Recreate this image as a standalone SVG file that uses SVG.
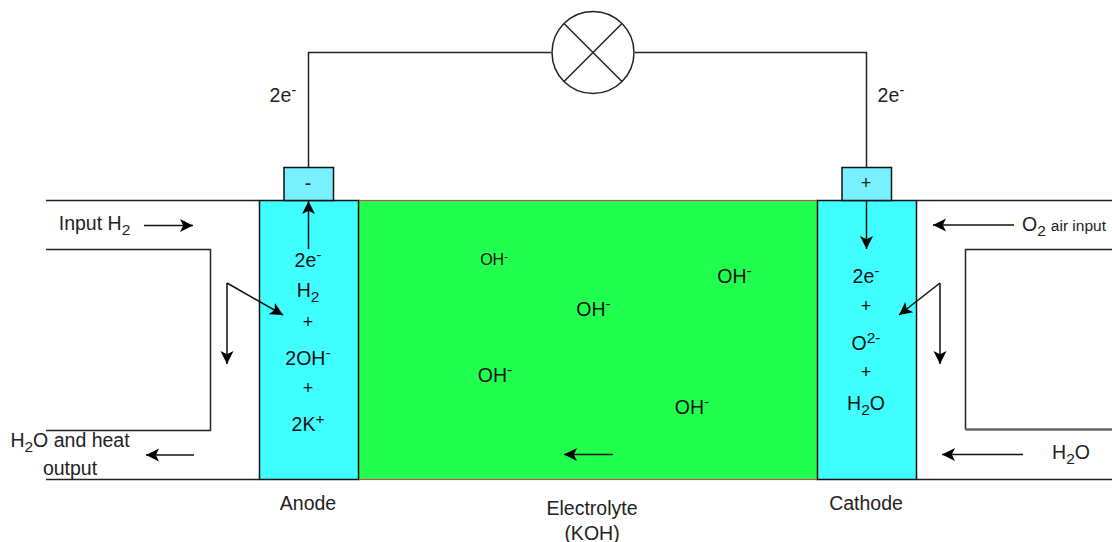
<svg xmlns="http://www.w3.org/2000/svg" width="1112" height="542" viewBox="0 0 1112 542">
<style>
text{font-family:"Liberation Sans",Arial,sans-serif;font-size:19.500px;fill:#222;text-anchor:middle}
.s{font-size:15.500px}
.o{fill:#111}
.p{font-size:18px}
.w{fill:none;stroke:#222;stroke-width:1.5}
.a{fill:none;stroke:#111;stroke-width:1.5;marker-end:url(#h)}
.box{stroke:#111;stroke-width:1.5}
</style>
<defs>
<marker id="h" markerUnits="userSpaceOnUse" markerWidth="16" markerHeight="16" refX="13" refY="7" orient="auto">
<path d="M0 0.5L13 7L0 13.5L3.2 7Z" fill="#000"/>
</marker>
</defs>
<rect width="1112" height="542" fill="#fff"/>
<g id="electrolyte"><rect x="358.500" y="200.500" width="459" height="279" fill="#21ff4f" stroke="#b85450" stroke-width="1.200"/></g>
<g id="anode"><rect class="box" x="259.500" y="200.500" width="99" height="279" fill="#40ffff"/></g>
<g id="cathode"><rect class="box" x="817.500" y="200.500" width="99" height="279" fill="#40ffff"/></g>
<g id="anode-tab"><rect class="box" x="284" y="167.500" width="49.500" height="33" fill="#78f0ff"/><text x="308" y="190">-</text></g>
<g id="cathode-tab"><rect class="box" x="842" y="167.500" width="49.500" height="33" fill="#78f0ff"/><text class="p" x="866" y="189">+</text></g>
<g id="lamp"><circle cx="593" cy="52.500" r="41" fill="#fff" stroke="#222" stroke-width="1.500"/><path class="w" d="M564 23.500L622 81.500M622 23.500L564 81.500"/></g>
<g id="connectors">
<path class="w" d="M308.500 167V52.500H551M635 52.500H866.500V167"/>
<path class="w" d="M46 200.500H259M46 479.500H259M46 249.500H210.500V430.500H46"/>
<path class="w" d="M917 200.500H1112M917 479.500H1112"/>
<path class="w" d="M1112 249.500H965.500V429.500"/>
<path d="M965.500 429.500H1112" fill="none" stroke="#666" stroke-width="2.500"/>
<path class="a" d="M308.500 249V201"/>
<path class="a" d="M144 225.500H193"/>
<path class="a" d="M227 283L283 315"/>
<path class="a" d="M227 283V364"/>
<path class="a" d="M194 455H146"/>
<path class="a" d="M866.500 201V249"/>
<path class="a" d="M940 283L899 315"/>
<path class="a" d="M940 283V364"/>
<path class="a" d="M1014 225H933"/>
<path class="a" d="M1023 454.500H942"/>
<path class="a" d="M613 454.500H564"/>
</g>
<g id="labels">
<text x="283" y="102">2e<tspan class="s" dy="-7">-</tspan></text>
<text x="891" y="102">2e<tspan class="s" dy="-7">-</tspan></text>
<text x="94.500" y="230">Input H<tspan class="s" dy="5">2</tspan></text>
<text x="1064" y="231">O<tspan class="s" dy="5">2</tspan><tspan dy="-5" dx="5" style="font-size:15.500px">air input</tspan></text>
<text x="70" y="447">H<tspan class="s" dy="5">2</tspan><tspan dy="-5">O and heat</tspan></text>
<text x="70" y="475">output</text>
<text x="1071" y="459">H<tspan class="s" dy="5">2</tspan><tspan dy="-5">O</tspan></text>
<text x="308" y="510">Anode</text>
<text x="866" y="510">Cathode</text>
<text x="592" y="515">Electrolyte</text>
<text x="592" y="540">(KOH)</text>
<text class="o" x="308" y="267">2e<tspan class="s" dy="-7">-</tspan></text>
<text class="o" x="308" y="297">H<tspan class="s" dy="5">2</tspan></text>
<text class="o p" x="308" y="328">+</text>
<text class="o" x="308" y="365">2OH<tspan class="s" dy="-7">-</tspan></text>
<text class="o p" x="308" y="394">+</text>
<text class="o" x="308" y="431">2K<tspan class="s" dy="-7">+</tspan></text>
<text class="o" x="866" y="283">2e<tspan class="s" dy="-7">-</tspan></text>
<text class="o p" x="866" y="312">+</text>
<text class="o" x="866" y="350">O<tspan class="s" dy="-7">2-</tspan></text>
<text class="o p" x="866" y="378">+</text>
<text class="o" x="866" y="410">H<tspan class="s" dy="5">2</tspan><tspan dy="-5">O</tspan></text>
<text class="o" x="494" y="265" style="font-size:16px">OH<tspan style="font-size:11px" dy="-5">-</tspan></text>
<text class="o" x="734.500" y="283">OH<tspan class="s" dy="-7">-</tspan></text>
<text class="o" x="593.500" y="316">OH<tspan class="s" dy="-7">-</tspan></text>
<text class="o" x="495" y="382">OH<tspan class="s" dy="-7">-</tspan></text>
<text class="o" x="692" y="414">OH<tspan class="s" dy="-7">-</tspan></text>
</g>
</svg>
